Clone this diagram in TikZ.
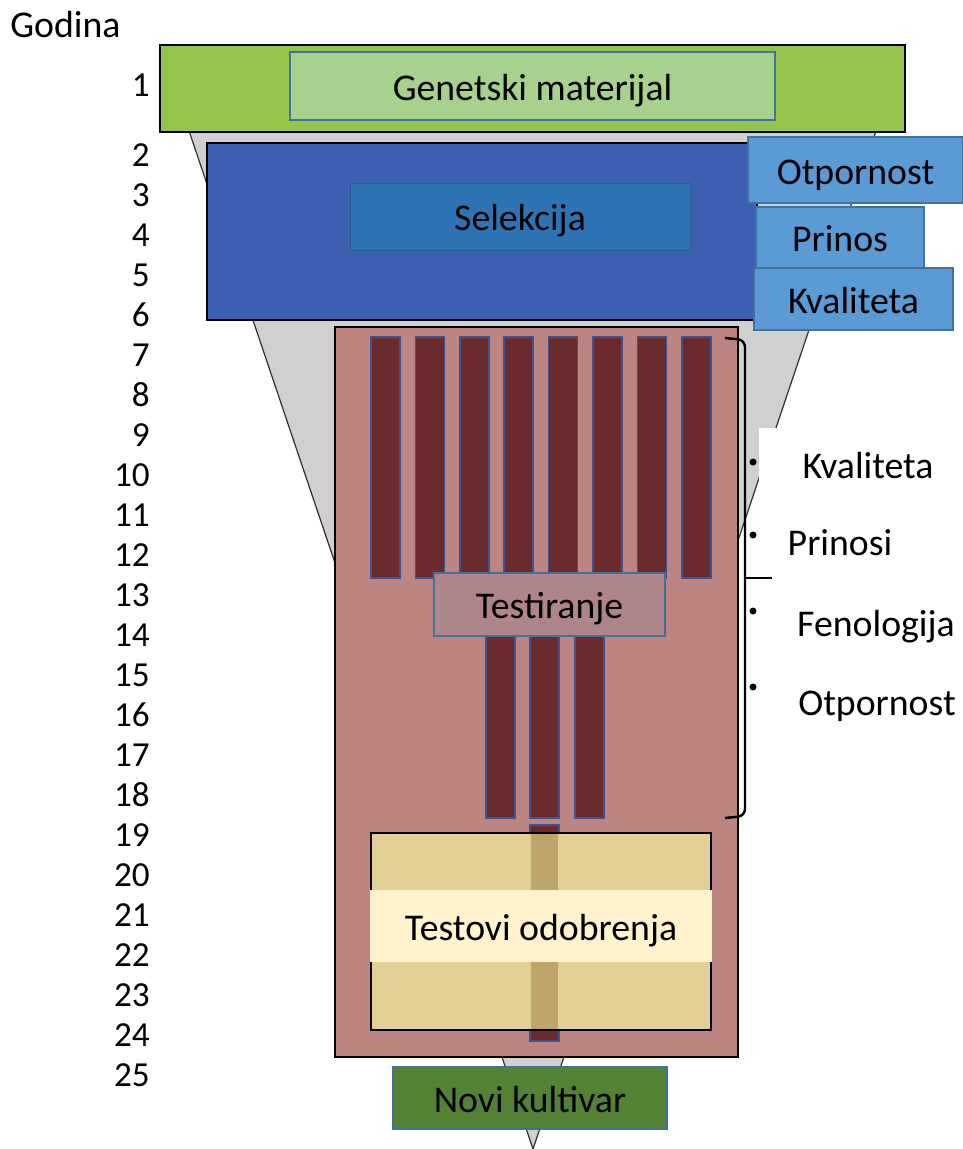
\documentclass[tikz,border=0pt]{standalone}
\usepackage{fontspec}
\setmainfont{Carlito}
\usetikzlibrary{positioning}

\definecolor{limegreen}{HTML}{96C34B}
\definecolor{palegreen}{HTML}{A9D18E}
\definecolor{selblue}{HTML}{3E60B3}
\definecolor{innerblue}{HTML}{2E74B5}
\definecolor{skyblue}{HTML}{5B9BD5}
\definecolor{edgeblue}{HTML}{41719C}
\definecolor{rosebox}{HTML}{BD8582}
\definecolor{darkbar}{HTML}{6B2A2B}
\definecolor{baredge}{HTML}{3F5391}
\definecolor{testrose}{HTML}{AE8689}
\definecolor{sand}{HTML}{E1CF95}
\definecolor{bartan}{HTML}{BFA46E}
\definecolor{cream}{HTML}{FFF2CC}
\definecolor{leafgreen}{HTML}{548235}
\definecolor{funnelgrey}{HTML}{D0D0D0}

\tikzset{
  txt/.style={font=\fontsize{21.5}{24}\selectfont, inner sep=0pt},
  boxtxt/.style={txt, text height=20pt, text depth=4pt},
  yearnum/.style={font=\fontsize{20}{23}\selectfont, anchor=east, inner sep=0pt},
  outerbox/.style={draw=black, line width=1.2pt},
  labelbox/.style={boxtxt, draw=edgeblue, line width=1.1pt},
  bar/.style={fill=darkbar, draw=baredge, line width=0.9pt},
  bracket/.style={line width=1.4pt, rounded corners=4pt},
}

\begin{document}
\begin{tikzpicture}[x=0.02cm,y=-0.02cm]
        \useasboundingbox (0,0) rectangle (963,1149);

        % funnel
        \draw[fill=funnelgrey, draw=black!80, line width=0.7pt] (160,45) -- (905,45) -- (533,1149) -- cycle;
        \fill[white] (759,428) rectangle (963,725);

        % year 1
        \draw[outerbox, fill=limegreen] (160,45) rectangle (905,132);
        \node[labelbox, fill=palegreen, minimum width=9.7cm, minimum height=1.36cm] (gen) at (532.5,86) {Genetski materijal};

        % years 2-6
        \draw[outerbox, fill=selblue] (207,143) rectangle (757,320);
        \node[boxtxt, fill=innerblue, draw=innerblue!80!black, minimum width=6.8cm, minimum height=1.34cm] (sel) at (520,216.5) {Selekcija};
        \node[labelbox, fill=skyblue, minimum width=4.3cm, minimum height=1.32cm] (otp) at (855.5,170) {Otpornost};
        \node[labelbox, fill=skyblue, minimum width=3.36cm, minimum height=1.22cm] (pri) at (840,237.5) {Prinos};
        \node[labelbox, fill=skyblue, minimum width=3.98cm, minimum height=1.24cm] (kva) at (853.5,299) {Kvaliteta};

        % years 7-24
        \draw[outerbox, fill=rosebox] (335,327) rectangle (738,1057);
        \foreach \i in {0,...,7}
          \draw[bar] (371+44.4*\i,337) rectangle ++(29,241);
        \foreach \x in {486,530,575}
          \draw[bar] (\x,600) rectangle (\x+29,818);
        \node[labelbox, fill=testrose, minimum width=4.62cm, minimum height=1.26cm] (test) at (549.5,604.5) {Testiranje};

        \draw[bar] (530,825) rectangle (559,1041);
        \draw[outerbox, fill=sand] (371,833) rectangle (711,1030);
        \fill[bartan] (531,834) rectangle (558,1029);
        \node[boxtxt, fill=cream, minimum width=6.84cm, minimum height=1.44cm] (odob) at (541,926) {Testovi odobrenja};

        % year 25
        \node[labelbox, fill=leafgreen, minimum width=5.48cm, minimum height=1.24cm] (novi) at (530,1098) {Novi kultivar};

        % bracket and traits
        \draw[bracket] (725,338) -- (745,340) -- (745,816) -- (725,818);
        \draw[line width=1.4pt] (745,578) -- (772,578);
        \foreach \y in {462,535,611,687}
          \fill (753,\y) circle (3.5);
        \node[txt] (t1) at (868,466) {Kvaliteta};
        \node[txt] (t2) at (840,543) {Prinosi};
        \node[txt] (t3) at (876,627) {Fenologija};
        \node[txt] (t4) at (877,706) {Otpornost};

        % years
        \node[txt, anchor=west] (god) at (10,25) {Godina};
        \node[yearnum] (y1) at (150,85) {1};
        \foreach \n in {2,...,25}
          \node[yearnum] (y\n) at (150,155+40*\n-80) {\n};
      \end{tikzpicture}
\end{document}
